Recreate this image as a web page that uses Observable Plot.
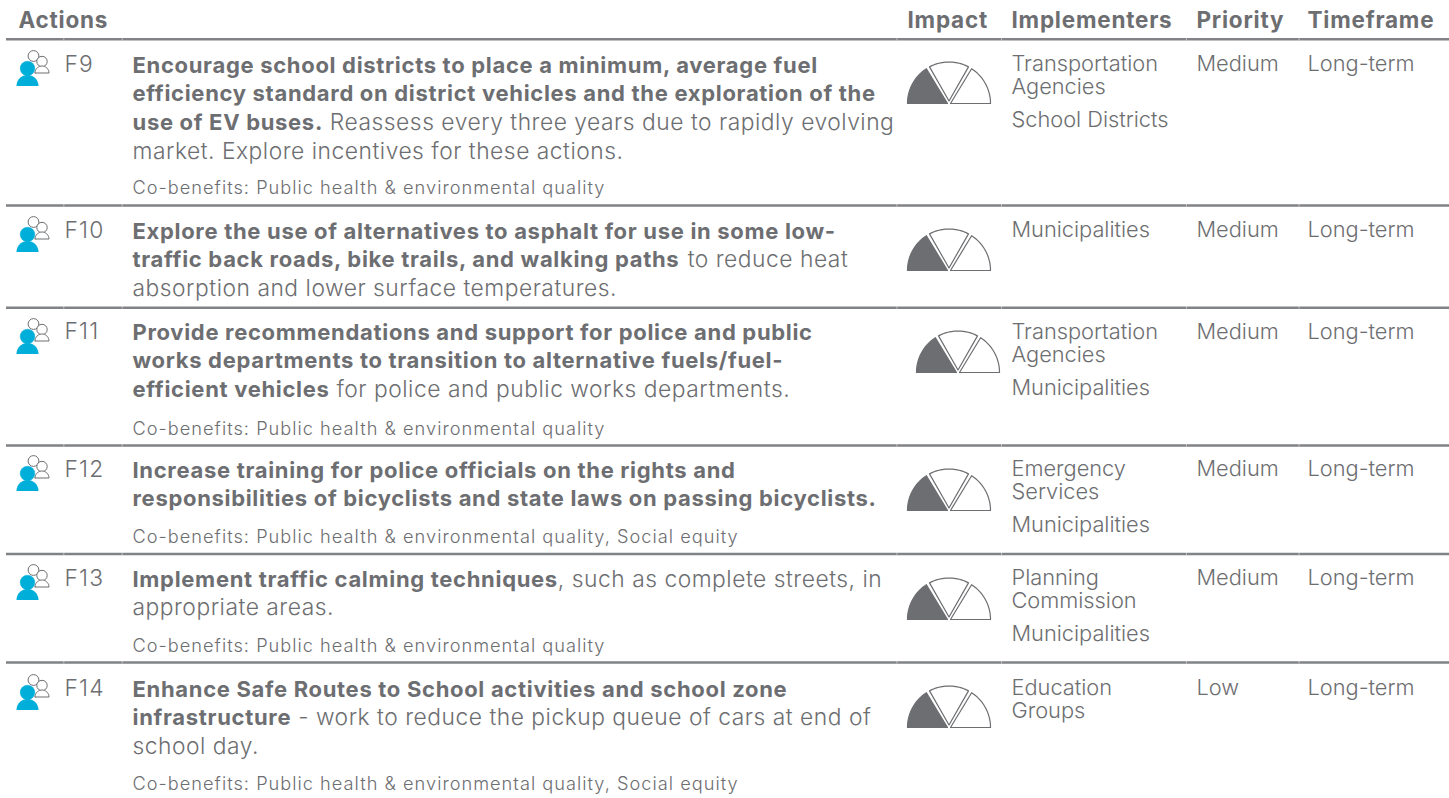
<!DOCTYPE html>
<html><head><meta charset="utf-8">
<script src="https://cdn.jsdelivr.net/npm/d3@7"></script>
<script src="https://cdn.jsdelivr.net/npm/@observablehq/plot@0.6"></script>
<style>html,body{margin:0;padding:0;background:#fff}svg{display:block}</style>
</head><body><div id="chart"></div>
<script>
const headers = ["Actions","Impact","Implementers","Priority","Timeframe"];
const ids = ["F9","F10","F11","F12","F13","F14"];
// each action line: [bold part, regular part]
const actions = [
 [["Encourage school districts to place a minimum, average fuel",""],["efficiency standard on district vehicles and the exploration of the",""],["use of EV buses."," Reassess every three years due to rapidly evolving"],["","market. Explore incentives for these actions."]],
 [["Explore the use of alternatives to asphalt for use in some low-",""],["traffic back roads, bike trails, and walking paths"," to reduce heat"],["","absorption and lower surface temperatures."]],
 [["Provide recommendations and support for police and public",""],["works departments to transition to alternative fuels/fuel-",""],["efficient vehicles"," for police and public works departments."]],
 [["Increase training for police officials on the rights and",""],["responsibilities of bicyclists and state laws on passing bicyclists.",""]],
 [["Implement traffic calming techniques",", such as complete streets, in"],["","appropriate areas."]],
 [["Enhance Safe Routes to School activities and school zone",""],["infrastructure"," - work to reduce the pickup queue of cars at end of"],["","school day."]]
];
const cobenefits = ["Co-benefits: Public health & environmental quality","","Co-benefits: Public health & environmental quality","Co-benefits: Public health & environmental quality, Social equity","Co-benefits: Public health & environmental quality","Co-benefits: Public health & environmental quality, Social equity"];
const implementers = [[["Transportation","Agencies"],["School Districts"]],[["Municipalities"]],[["Transportation","Agencies"],["Municipalities"]],[["Emergency","Services"],["Municipalities"]],[["Planning","Commission"],["Municipalities"]],[["Education","Groups"]]];
const priorities = ["Medium","Medium","Medium","Medium","Medium","Low"];
const timeframes = ["Long-term","Long-term","Long-term","Long-term","Long-term","Long-term"];
const impactLevels = [1,1,1,1,1,1];

const W=1449,H=798;
const INK="#6d6e71", RULE="#808285", BLUE="#00aeda";
const FONT="Inter";
const SZ=22, SR=22.8, SI=21.8, SM=18.2, HD=22.5, LH=28.8;
const ruleYs=[38.7,205,307.3,445,553.5,662];
const firstBase=[72,238,339,477,586,696];
const iconBase=[72,238,340,477,586,696];
const implBase=[70,236,338,475,584,694];
const cobase=[193,null,434,542,651,789];
const gaugeX=[948.5,948.5,957.5,948.5,948.5,948.5];
const gaugeY=[103,270,372,510,619,727];
const colX={id:64,act:132,imp:907,impl:1011,pri:1196,time:1307};
const gapX=[63.3,121.7,896.4,1001,1186,1298.6];

const ctx=document.createElement("canvas").getContext("2d");
const measure=(s,w,sz)=>{ctx.font=`${w} ${sz}px ${FONT}`;return ctx.measureText(s).width;};
// letter spacing that makes the reference's sample strings come out at their measured widths
const fit=(s,w,sz,target)=>(target-measure(s,w,sz))/s.length;
const lsBold=fit(actions[0][0][0],700,SZ,686);
const lsReg=fit(actions[0][3][1],300,SR,491);
const lsImpl=fit("Transportation",300,SI,146.5);
const lsSmall=fit(cobenefits[0],300,SM,473);
const lsHead=fit("Implementers",700,HD,161);
const lsId=fit("F10",300,SR,40);

const boldT=[],regT=[],smallT=[],implT=[],idT=[];
ids.forEach((id,i)=>{
  idT.push({x:colX.id,y:firstBase[i]-1,t:id});
  actions[i].forEach((l,j)=>{
    const y=firstBase[i]+j*LH;
    if(l[0]) boldT.push({x:colX.act,y,t:l[0]});
    if(l[1]) regT.push({x:colX.act+(l[0]?measure(l[0],700,SZ)+l[0].length*lsBold:0),y,t:l[1]});
  });
  if(cobenefits[i]) smallT.push({x:colX.act,y:cobase[i],t:cobenefits[i]});
  let y=implBase[i];
  implementers[i].forEach(group=>{
    group.forEach(s=>{implT.push({x:colX.impl,y,t:s});y+=23;});
    y+=10.5;
  });
  implT.push({x:colX.pri,y:implBase[i],t:priorities[i]});
  implT.push({x:colX.time,y:implBase[i],t:timeframes[i]});
});

const R=41.5;
function wedge(cx,cy,ax,ay,a0,a1){
  const p=[[cx+ax,cy+ay]];
  for(let k=0;k<=24;k++){const r=(a0+(a1-a0)*k/24)*Math.PI/180;p.push([cx+R*Math.cos(r),cy-R*Math.sin(r)]);}
  p.push([cx+ax,cy+ay]);
  return p;
}
const wedgeDefs=[[-1.5,0,180,123],[0,-2.5,118,62],[1.5,0,57,0]];
const gaugePolys=[];
ids.forEach((id,i)=>wedgeDefs.forEach((d,k)=>{
  wedge(gaugeX[i],gaugeY[i],d[0],d[1],d[2],d[3]).forEach(p=>gaugePolys.push({x:p[0],y:p[1],key:`${i}-${k}`,on:k<impactLevels[i]}));
}));

function arc(cx,cy,r,a0,a1){const o=[];for(let k=0;k<=24;k++){const a=(a0+(a1-a0)*k/24)*Math.PI/180;o.push([cx+r*Math.cos(a),cy-r*Math.sin(a)]);}return o;}
const iconPolys=[],iconDots=[];
ids.forEach((id,i)=>{
  const b=iconBase[i]-72;
  iconDots.push({x:33,y:b+55.5,r:5.4,fill:"white"});
  [[34.5,b+72.5],...arc(41.5,b+72.5,7,180,0),[34.5,b+72.5]].forEach(p=>iconPolys.push({x:p[0],y:p[1],key:"g"+i,fill:"white"}));
  iconDots.push({x:41.5,y:b+61,r:5.2,fill:"white"});
  [...arc(27,b+85.5,11,180,0),[16,b+85.5]].forEach(p=>iconPolys.push({x:p[0],y:p[1],key:"b"+i,fill:BLUE}));
  iconDots.push({x:27,y:b+68,r:7.3,fill:BLUE});
});

const base={fontFamily:FONT,textAnchor:"start",lineAnchor:"bottom",x:"x",y:"y",text:"t"};
const headerT=[[18,0],[907,1],[1011,2],[1196,3],[1307,4]].map(([x,k])=>({x,y:27,t:headers[k]}));

const chart=Plot.plot({
  width:W,height:H,margin:0,
  x:{domain:[0,W],range:[0,W],axis:null},
  y:{domain:[0,H],range:[0,H],axis:null},
  r:{type:"identity"},
  style:{background:"#fff"},
  marks:[
    Plot.ruleY(ruleYs,{x1:6,x2:1449,stroke:RULE,strokeWidth:2.6}),
    Plot.ruleX(gapX.flatMap(x=>ruleYs.map(y=>({x,y}))),{x:"x",y1:d=>d.y-1.5,y2:d=>d.y+1.5,stroke:"white",strokeWidth:0.8,strokeOpacity:0.6}),
    Plot.text(headerT,{...base,className:"hd",fontWeight:700,fontSize:HD,fill:INK}),
    Plot.text(boldT,{...base,className:"bd",fontWeight:700,fontSize:SZ,fill:INK}),
    Plot.text(regT,{...base,className:"rg",fontWeight:300,fontSize:SR,fill:INK}),
    Plot.text(idT,{...base,className:"idc",fontWeight:300,fontSize:SR,fill:INK}),
    Plot.text(implT,{...base,className:"im",fontWeight:300,fontSize:SI,fill:INK}),
    Plot.text(smallT,{...base,className:"sm",fontWeight:300,fontSize:SM,fill:INK}),
    Plot.line(gaugePolys.filter(d=>d.on),{x:"x",y:"y",z:"key",fill:INK,stroke:INK,strokeWidth:1.2}),
    Plot.line(gaugePolys.filter(d=>!d.on),{x:"x",y:"y",z:"key",fill:"white",stroke:INK,strokeWidth:1.2}),
    Plot.dot(iconDots.filter(d=>d.fill==="white"),{x:"x",y:"y",r:"r",fill:"white",stroke:INK,strokeWidth:1}),
    Plot.line(iconPolys.filter(d=>d.fill==="white"),{x:"x",y:"y",z:"key",fill:"white",stroke:INK,strokeWidth:1}),
    Plot.line(iconPolys.filter(d=>d.fill!=="white"),{x:"x",y:"y",z:"key",fill:BLUE,stroke:"none"}),
    Plot.dot(iconDots.filter(d=>d.fill!=="white"),{x:"x",y:"y",r:"r",fill:BLUE,stroke:BLUE,strokeWidth:0.5})
  ]
});
const sheet=document.createElement("style");
sheet.textContent=`.hd{letter-spacing:${lsHead}px}.bd{letter-spacing:${lsBold}px}.rg{letter-spacing:${lsReg}px}.im{letter-spacing:${lsImpl}px}.sm{letter-spacing:${lsSmall}px}.idc{letter-spacing:${lsId}px}`;
document.head.appendChild(sheet);
document.getElementById("chart").appendChild(chart);
</script></body></html>
